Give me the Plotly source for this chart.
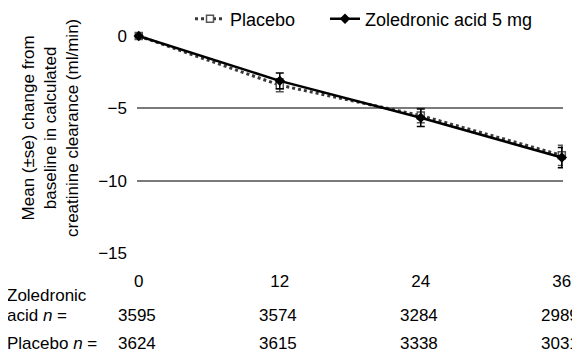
import plotly.graph_objects as go

months = [0, 12, 24, 36]
zol_mean = [0.0, -3.1, -5.65, -8.4]
zol_se = [0.0, 0.55, 0.6, 0.7]
plac_mean = [0.0, -3.4, -5.5, -8.25]
plac_se = [0.0, 0.45, 0.5, 0.7]
zol_n = [3595, 3574, 3284, 2989]
plac_n = [3624, 3615, 3338, 3031]
y_ticks = [0, -5, -10, -15]

FONT = "Liberation Sans, Arial, Helvetica, sans-serif"
FS = 17

# The page body has an 8px margin, so the figure is drawn 8px in from the window edge.
OFF = 8
W, H = 580 - OFF, 354 - OFF
# plot area in window pixels
PL, PR, PT, PB = 137, 563, 36, 253
ML, MR, MT, MB = PL - OFF, W - (PR - OFF), PT - OFF, H - (PB - OFF)
plot_w = W - ML - MR
plot_h = H - MT - MB


def px_x(p):  # window pixel x -> paper x
    return (p - PL) / plot_w


def px_y(p):  # window pixel y -> paper y
    return (PB - p) / plot_h


fig = go.Figure()
fig.add_trace(go.Scatter(
    x=months, y=plac_mean, name="Placebo", mode="lines+markers",
    line=dict(color="#3a3a3a", width=3, dash="dot"),
    marker=dict(symbol="square", size=7, color="white", line=dict(color="#555555", width=1.5)),
    error_y=dict(type="data", array=plac_se, color="#555555", thickness=1.5, width=4),
    cliponaxis=False, legend="legend",
))
fig.add_trace(go.Scatter(
    x=months, y=zol_mean, name="Zoledronic acid 5 mg", mode="lines+markers",
    line=dict(color="black", width=2.5),
    marker=dict(symbol="diamond", size=8, color="black"),
    error_y=dict(type="data", array=zol_se, color="black", thickness=1.5, width=4),
    cliponaxis=False, legend="legend2",
))

# table below the axis
for xi, n in zip(months, zol_n):
    fig.add_annotation(x=xi, y=px_y(315), xref="x", yref="paper", text=str(n),
                       showarrow=False, xanchor="center", yanchor="middle", xshift=-2,
                       font=dict(size=FS, color="black", family=FONT))
for xi, n in zip(months, plac_n):
    fig.add_annotation(x=xi, y=px_y(343), xref="x", yref="paper", text=str(n),
                       showarrow=False, xanchor="center", yanchor="middle", xshift=-2,
                       font=dict(size=FS, color="black", family=FONT))

row_labels = [("Zoledronic", 295), ("acid <i>n</i> =", 315), ("Placebo <i>n</i> =", 343)]
for txt, ypix in row_labels:
    fig.add_annotation(x=px_x(5), y=px_y(ypix), xref="paper", yref="paper", text=txt,
                       showarrow=False, xanchor="left", yanchor="middle", align="left",
                       font=dict(size=FS, color="black", family=FONT))

# y-axis title
fig.add_annotation(x=px_x(50), y=px_y(128), xref="paper", yref="paper",
                   text="Mean (±se) change from<br>baseline in calculated<br>creatinine clearance (ml/min)",
                   textangle=-90, showarrow=False, xanchor="center", yanchor="middle",
                   font=dict(size=FS, color="black", family=FONT))

legend_common = dict(orientation="h", xanchor="left", yanchor="middle",
                     font=dict(size=18, family=FONT, color="black"),
                     bgcolor="rgba(0,0,0,0)", entrywidthmode="pixels")

fig.update_layout(
    width=W, height=H, autosize=False,
    margin=dict(l=ML, r=MR, t=MT, b=MB, pad=0, autoexpand=False),
    paper_bgcolor="white", plot_bgcolor="white",
    font=dict(family=FONT, size=FS, color="black"),
    showlegend=True,
    legend=dict(x=px_x(190), y=px_y(19), entrywidth=85, **legend_common),
    legend2=dict(x=px_x(325), y=px_y(19), entrywidth=185, **legend_common),
    xaxis=dict(range=[-0.15, 36.1], tickvals=months, ticktext=[str(m) for m in months],
               showgrid=False, zeroline=False, showline=False, ticks="",
               ticklabelstandoff=16, tickfont=dict(size=FS)),
    yaxis=dict(range=[-15, 0], tickvals=y_ticks, showgrid=True, gridcolor="#7a7a7a",
               gridwidth=1.5, zeroline=False, showline=False, ticks="",
               ticklabelstandoff=9, tickfont=dict(size=FS)),
)

fig.write_html("out.html")
